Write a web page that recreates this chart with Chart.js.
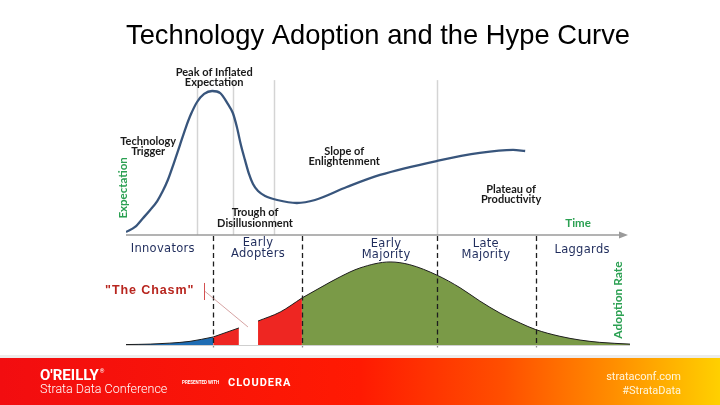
<!DOCTYPE html>
<html>
<head>
<meta charset="utf-8">
<script src="https://cdn.jsdelivr.net/npm/chart.js@4.4.1/dist/chart.umd.min.js"></script>
<style>
html, body { margin: 0; padding: 0; background: #fff; }
</style>
</head>
<body>
<canvas id="hypeChart" width="720" height="405"></canvas>
<script>
// Hype curve (time 0-100, expectation 0-100)
var hypeTime = [0, 1.8, 3.4, 4.8, 6.2, 7.3, 8.3, 9.5, 10.7, 11.9, 12.9, 14.1, 15.5, 17.1, 18.7, 20.2, 21.2, 22.0, 22.8, 23.6, 24.4, 25.2, 26.2, 27.6, 30.0, 33.9, 37.5, 43.8, 50.4, 61.7, 70.2, 76.8, 79.2];
var hypeExpectation = [1.7, 4.6, 9.7, 14.3, 19.4, 25.1, 31.4, 41.1, 51.4, 61.7, 69.1, 76, 80.6, 82.3, 81.1, 74.9, 69.7, 61.7, 51.4, 42.9, 34.9, 29.1, 25.1, 22.3, 20, 18.3, 20, 27.4, 34.3, 42.3, 46.9, 48.6, 48];
var hypePhases = ["Technology Trigger", "Peak of Inflated Expectation", "Trough of Disillusionment", "Slope of Enlightenment", "Plateau of Productivity"];
var phaseLines = [14.1, 21.2, 29.4, 61.7];

// Adoption bell curve (time 0-100, adoption rate 0-100)
var adoptionTime = [0, 4.8, 8.7, 12.7, 17.3, 22.4, 26.2, 30.6, 34.9, 38.5, 42.5, 46.4, 52.4, 56.3, 61.7, 66.3, 70.2, 74.2, 78.2, 81.3, 86.1, 90.1, 94.0, 100];
var adoptionRate = [0.4, 0.8, 1.7, 3.3, 7.3, 15.5, 21.8, 30, 42.7, 52, 62, 70, 75.5, 73, 63.5, 52, 40, 29, 20, 14, 7.9, 4.5, 2.4, 0.8];
var adopterGroups = ["Innovators", "Early Adopters", "Early Majority", "Late Majority", "Laggards"];
var groupBounds = [0, 17.3, 34.9, 61.7, 81.3, 100];
var chasm = [22.4, 26.2];

// Цвета и положения подписей
var blue = "#1f6db4", red = "#ee2622", green = "#7a9a47";
var navy = "#1f2c5c", labelGreen = "#2ba052";
var phaseLabelPos = [[4.4, 53.7], [17.5, 93.1], [25.6, 12.6], [43.3, 48], [76.4, 26.3]];
var groupLabelPos = [[7.3, 87.3], [26.2, 92.7], [51.6, 91.8], [71.4, 91.8], [90.5, 86.4]];

function splitLabel(s) {
    var i = s.lastIndexOf(" ");
    return i < 0 ? [s] : [s.slice(0, i), s.slice(i + 1)];
}

function points(xs, ys, from, to) {
    var out = [];
    for (var i = 0; i < xs.length; i++) {
        if (xs[i] >= from && xs[i] <= to) out.push({x: xs[i], y: ys[i]});
    }
    return out;
}

var segments = [
    [groupBounds[0], groupBounds[1], blue],
    [groupBounds[1], chasm[0], red],
    [chasm[1], groupBounds[2], red],
    [groupBounds[2], groupBounds[5], green]
];

var datasets = [{
    data: points(hypeTime, hypeExpectation, 0, 100),
    yAxisID: "yHype",
    borderColor: "#38557c",
    borderWidth: 2.3,
    pointRadius: 0,
    cubicInterpolationMode: "monotone",
    fill: false
}];
segments.forEach(function (s) {
    datasets.push({
        data: points(adoptionTime, adoptionRate, s[0], s[1]),
        yAxisID: "yAdopt",
        borderColor: "#1e1e1e",
        borderWidth: 1,
        backgroundColor: s[2],
        pointRadius: 0,
        cubicInterpolationMode: "monotone",
        fill: "origin"
    });
});

function textLines(ctx, lines, px, py, lh) {
    lines.forEach(function (t, i) { ctx.fillText(t, px, py + i * lh); });
}

var slidePlugin = {
    id: "slide",
    beforeDraw: function (chart) {
        var ctx = chart.ctx, w = chart.width;
        ctx.save();
        ctx.fillStyle = "#fff";
        ctx.fillRect(0, 0, w, chart.height);
        // полоса внизу слайда
        var g = ctx.createLinearGradient(0, 0, w, 0);
        g.addColorStop(0, "#f20d10");
        g.addColorStop(0.5, "#ff1a02");
        g.addColorStop(0.7, "#ff4f00");
        g.addColorStop(0.85, "#ff8d00");
        g.addColorStop(1, "#ffd000");
        ctx.fillStyle = "#ececec";
        ctx.fillRect(0, 355, w, 3);
        ctx.fillStyle = g;
        ctx.fillRect(0, 358, w, 47);
        ctx.fillStyle = "#fff";
        ctx.textBaseline = "middle";
        ctx.textAlign = "left";
        ctx.font = "bold 15px Roboto";
        ctx.fillText("O'REILLY", 40, 376);
        var ow = ctx.measureText("O'REILLY").width;
        ctx.font = "6px Roboto";
        ctx.fillText("®", 41 + ow, 371);
        ctx.font = "300 12.5px Roboto";
        ctx.fillText("Strata Data Conference", 40, 390);
        ctx.font = "bold 4.5px Roboto";
        ctx.fillText("PRESENTED WITH", 182, 383);
        ctx.font = "bold 11px Roboto";
        ctx.letterSpacing = "1px";
        ctx.fillText("CLOUDERA", 228, 383);
        ctx.letterSpacing = "0px";
        ctx.textAlign = "right";
        ctx.fillStyle = "#fff6dc";
        ctx.font = "11px Roboto";
        ctx.fillText("strataconf.com", 681, 377);
        ctx.fillText("#StrataData", 681, 391);
        ctx.restore();
    },
    beforeDatasetsDraw: function (chart) {
        var ctx = chart.ctx, x = chart.scales.x, yH = chart.scales.yHype, yA = chart.scales.yAdopt;
        ctx.save();
        // серые линии фаз
        ctx.strokeStyle = "#d4d4d4";
        ctx.lineWidth = 1.5;
        phaseLines.forEach(function (u) {
            var px = Math.round(x.getPixelForValue(u)) + 0.5;
            ctx.beginPath();
            ctx.moveTo(px, yH.getPixelForValue(88.5));
            ctx.lineTo(px, yH.getPixelForValue(0));
            ctx.stroke();
        });
        // базовая линия
        ctx.strokeStyle = "#cfcfcf";
        ctx.lineWidth = 1;
        ctx.beginPath();
        ctx.moveTo(x.getPixelForValue(0), yA.getPixelForValue(0) + 0.5);
        ctx.lineTo(x.getPixelForValue(100), yA.getPixelForValue(0) + 0.5);
        ctx.stroke();
        // ось времени со стрелкой
        var ay = yH.getPixelForValue(0);
        var x1 = x.getPixelForValue(100) - 2;
        ctx.strokeStyle = "#9a9a9a";
        ctx.lineWidth = 1.6;
        ctx.beginPath();
        ctx.moveTo(x.getPixelForValue(0), ay);
        ctx.lineTo(x1 - 6, ay);
        ctx.stroke();
        ctx.fillStyle = "#9a9a9a";
        ctx.beginPath();
        ctx.moveTo(x1, ay);
        ctx.lineTo(x1 - 9, ay - 3.5);
        ctx.lineTo(x1 - 9, ay + 3.5);
        ctx.closePath();
        ctx.fill();
        ctx.restore();
    },
    afterDatasetsDraw: function (chart) {
        var ctx = chart.ctx, x = chart.scales.x, yH = chart.scales.yHype, yA = chart.scales.yAdopt;
        ctx.save();
        // пунктир между группами
        ctx.strokeStyle = "#1e1e1e";
        ctx.lineWidth = 1.3;
        ctx.setLineDash([5, 3.5]);
        groupBounds.slice(1, -1).forEach(function (u) {
            var px = Math.round(x.getPixelForValue(u)) + 0.5;
            ctx.beginPath();
            ctx.moveTo(px, yA.getPixelForValue(99));
            ctx.lineTo(px, yA.getPixelForValue(-2));
            ctx.stroke();
        });
        ctx.setLineDash([]);

        // подписи фаз
        ctx.textAlign = "center";
        ctx.textBaseline = "middle";
        ctx.fillStyle = "#1a1a1a";
        ctx.font = "bold 11px Lato";
        hypePhases.forEach(function (t, i) {
            var p = phaseLabelPos[i];
            textLines(ctx, splitLabel(t), x.getPixelForValue(p[0]), yH.getPixelForValue(p[1]), 10.5);
        });

        // подписи групп
        ctx.fillStyle = navy;
        ctx.font = "11.5px 'DejaVu Sans'";
        ctx.letterSpacing = "0.3px";
        adopterGroups.forEach(function (t, i) {
            var p = groupLabelPos[i];
            textLines(ctx, splitLabel(t), x.getPixelForValue(p[0]), yA.getPixelForValue(p[1]), 10.5);
        });
        ctx.letterSpacing = "0px";

        // "The Chasm"
        ctx.fillStyle = "#b8261f";
        ctx.font = "bold 12.5px 'Liberation Sans'";
        ctx.letterSpacing = "0.9px";
        ctx.fillText("\"The Chasm\"", x.getPixelForValue(4.7), yA.getPixelForValue(49.1));
        ctx.letterSpacing = "0px";
        ctx.strokeStyle = "#d45050";
        ctx.lineWidth = 1;
        var mx = Math.round(x.getPixelForValue(15.5)) + 0.5;
        ctx.beginPath();
        ctx.moveTo(mx, yA.getPixelForValue(56.4));
        ctx.lineTo(mx, yA.getPixelForValue(40.9));
        ctx.stroke();
        ctx.strokeStyle = "rgba(190,110,110,0.8)";
        ctx.lineWidth = 0.8;
        ctx.beginPath();
        ctx.moveTo(mx, yA.getPixelForValue(49.1));
        ctx.lineTo(x.getPixelForValue(24.2), yA.getPixelForValue(16.4));
        ctx.stroke();

        // подписи осей
        ctx.fillStyle = labelGreen;
        ctx.font = "bold 11.5px Lato";
        ctx.fillText("Time", x.getPixelForValue(89.7), yH.getPixelForValue(6.9));
        ctx.save();
        ctx.translate(x.getPixelForValue(-0.6), yH.getPixelForValue(26.9));
        ctx.rotate(-Math.PI / 2);
        ctx.font = "bold 11.5px Lato";
        ctx.fillText("Expectation", 0, 0);
        ctx.restore();
        ctx.save();
        ctx.translate(x.getPixelForValue(97.6), yA.getPixelForValue(40.9));
        ctx.rotate(-Math.PI / 2);
        ctx.font = "bold 12px Lato";
        ctx.fillText("Adoption Rate", 0, 0);
        ctx.restore();
        ctx.restore();
    }
};

var hypeChart = new Chart(document.getElementById("hypeChart").getContext("2d"), {
    type: "line",
    data: { datasets: datasets },
    plugins: [slidePlugin],
    options: {
        responsive: false,
        animation: false,
        layout: { padding: { left: 126, right: 90, top: 0, bottom: 60 } },
        scales: {
            x: { type: "linear", min: 0, max: 100, display: false },
            yHype: { type: "linear", min: 0, max: 100, display: false, stack: "panels", stackWeight: 175, weight: 1 },
            yAdopt: { type: "linear", min: 0, max: 100, display: false, stack: "panels", stackWeight: 110, weight: 0 }
        },
        plugins: {
            legend: { display: false },
            tooltip: { enabled: false },
            title: {
                display: true,
                text: "Technology Adoption and the Hype Curve",
                color: "#000",
                font: { family: "'Liberation Sans', Arial", size: 28, weight: "normal" },
                padding: { top: 19, bottom: 7.4 }
            }
        }
    }
});
</script>
</body>
</html>
